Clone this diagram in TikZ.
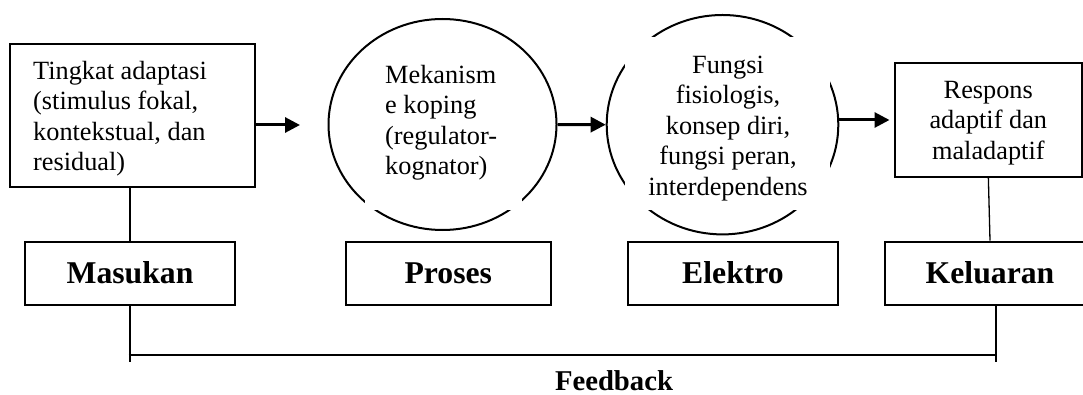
\documentclass[tikz,border=0pt]{standalone}
\usepackage{fontspec}
\setmainfont{Liberation Serif}
\usetikzlibrary{shapes.geometric,arrows.meta}
\newcommand\dgtxt{\fontsize{26.3}{30.5}\selectfont}
\newcommand\dglab{\fontsize{31.7}{36}\selectfont\bfseries}
\newcommand\dgfb{\fontsize{28.7}{33}\selectfont\bfseries}
\tikzset{
  boxshape/.style={draw, line width=2pt, rectangle, inner sep=0pt},
  labbox/.style={boxshape, font=\dglab, text height=22pt, text depth=1.6pt, minimum height=62.8pt},
  circshape/.style={draw, line width=2pt, ellipse, inner sep=0pt},
  txt/.style={inner sep=0pt, font=\dgtxt},
  arr/.style={line width=3pt, -{Triangle[length=15pt,width=15pt]}},
  conn/.style={line width=1.3pt},
}
\begin{document}
\begin{tikzpicture}[x=1pt,y=-1pt]
\useasboundingbox (0,0) rectangle (1083,395);
\clip (0,0) rectangle (1083,395);
\fill[white] (0,0) rectangle (1083,395);

% input box
\node[boxshape, minimum width=245pt, minimum height=143pt] (b1) at (132.5,115.5) {};
\node[txt, anchor=north west, align=left] (b1t) at (33,57.95) {\strut Tingkat adaptasi\\(stimulus fokal,\\kontekstual, dan\\residual)};

% process circle
\node[circshape, minimum width=228pt, minimum height=211pt] (c1) at (442.5,124.5) {};
\fill[white] (365,50) rectangle (522,210);
\node[txt, anchor=north west, align=left] (c1t) at (385,61.95) {\strut Mekanism\\e koping\\(regulator-\\kognator)};

% effector circle
\node[circshape, minimum width=231.6pt, minimum height=219.4pt] (c2) at (722.5,124.7) {};
\fill[white] (625,37) rectangle (830,210);
\node[txt, anchor=north, align=center] (c2t) at (728,51.95) {\strut Fungsi\\fisiologis,\\konsep diri,\\fungsi peran,\\interdependens};

% output box
\node[boxshape, minimum width=186.7pt, minimum height=113.4pt] (r) at (988.35,120) {};
\node[txt, anchor=north, align=center] (rt) at (988.3,76.95) {\strut Respons\\adaptif dan\\maladaptif};

% label boxes
\node[labbox, minimum width=210pt] (masukan) at (130,273.1) {Masukan};
\node[labbox, minimum width=204.5pt] (proses) at (448.25,273.1) {Proses};
\node[labbox, minimum width=210pt] (elektro) at (733,273.1) {Elektro};
\node[labbox, minimum width=210pt] (keluaran) at (990,273.1) {Keluaran};

% arrows
\coordinate (a1e) at (300,125);
\draw[arr] (b1.east |- a1e) -- (a1e);
\draw[arr] (c1.east) -- (c2.west);
\coordinate (a3e) at (889.5,120);
\draw[arr] (c2.east |- a3e) -- (a3e);

% connectors
\draw[conn] (masukan.north |- b1.south) -- (masukan.north);
\draw[conn] (r.south) -- (keluaran.north);

\coordinate (fbL) at (130,362);
\coordinate (fbR) at (996,362);
\coordinate (hL) at (128.5,355);
\coordinate (hR) at (996,355);
\draw[conn] (masukan.south) -- (fbL);
\draw[conn] (fbR |- keluaran.south) -- (fbR);
\draw[conn] (hL) -- (hR);
\node[font=\dgfb, anchor=base, inner sep=0pt] (fb) at (614,390) {Feedback};
\end{tikzpicture}
\end{document}
